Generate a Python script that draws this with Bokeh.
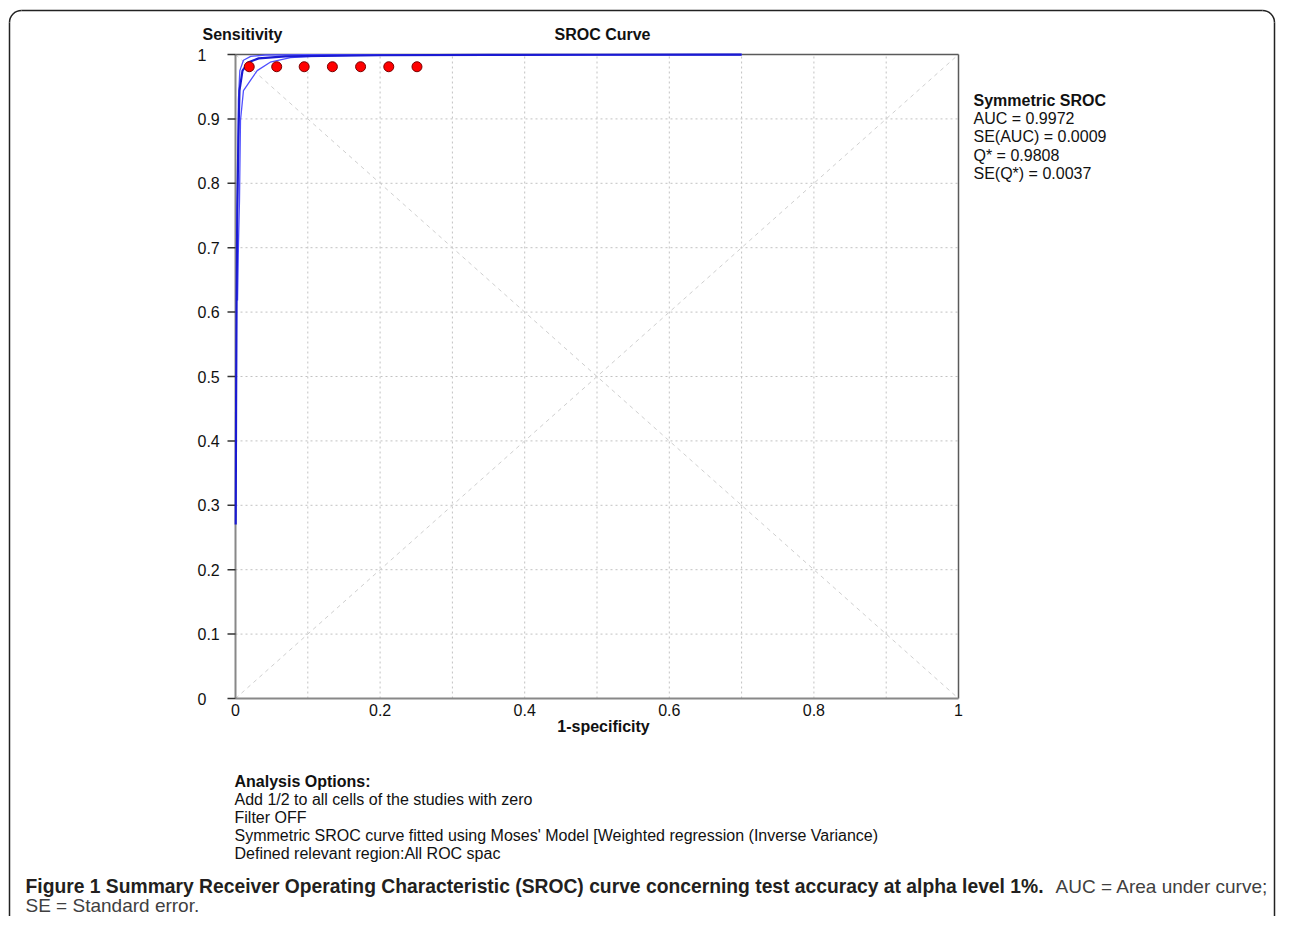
import math
from bokeh.plotting import figure
from bokeh.models import Range1d
from bokeh.core.properties import value
from bokeh.embed import file_html
from bokeh.resources import INLINE

# ---------------- data ----------------
study_fpr = [0.019, 0.057, 0.095, 0.134, 0.173, 0.212, 0.251]
study_tpr = [0.981, 0.981, 0.981, 0.981, 0.981, 0.981, 0.981]

sroc_fpr = [0.0003, 0.0008, 0.0015, 0.0025, 0.0040, 0.0055, 0.0097, 0.018, 0.032, 0.069, 0.12, 0.2, 0.35, 0.5, 0.7]
sroc_tpr = [0.27, 0.45, 0.62, 0.76, 0.87, 0.944, 0.975, 0.988, 0.994, 0.997, 0.998, 0.9988, 0.9993, 0.9996, 0.9998]

ci_up_fpr = [0.0015, 0.0020, 0.0035, 0.0040, 0.0060, 0.011, 0.021, 0.041, 0.1, 0.3, 0.7]
ci_up_tpr = [0.62, 0.696, 0.851, 0.929, 0.975, 0.991, 0.997, 0.9992, 0.9998, 0.9999, 1.0]

ci_lo_fpr = [0.0028, 0.0040, 0.0055, 0.0069, 0.011, 0.0207, 0.030, 0.048, 0.076, 0.122, 0.2, 0.4, 0.7]
ci_lo_tpr = [0.618, 0.70, 0.773, 0.8975, 0.944, 0.96, 0.975, 0.988, 0.995, 0.9984, 0.9992, 0.9996, 0.9998]

x_min, x_max = 0.0, 1.0
y_min, y_max = 0.0, 1.0
x_ticks = [0, 0.2, 0.4, 0.6, 0.8, 1]
x_tick_labels = ["0", "0.2", "0.4", "0.6", "0.8", "1"]
y_ticks = [0, 0.1, 0.2, 0.3, 0.4, 0.5, 0.6, 0.7, 0.8, 0.9, 1]
y_tick_labels = ["0", "0.1", "0.2", "0.3", "0.4", "0.5", "0.6", "0.7", "0.8", "0.9", "1"]
grid_ticks = [0.1, 0.2, 0.3, 0.4, 0.5, 0.6, 0.7, 0.8, 0.9]

y_title = "Sensitivity"
x_title = "1-specificity"
chart_title = "SROC Curve"
stats_title = "Symmetric SROC"
stats_lines = ["AUC = 0.9972", "SE(AUC) = 0.0009", "Q* = 0.9808", "SE(Q*) = 0.0037"]
options_title = "Analysis Options:"
options_lines = ["Add 1/2 to all cells of the studies with zero",
                 "Filter OFF",
                 "Symmetric SROC curve fitted using Moses' Model [Weighted regression (Inverse Variance)",
                 "Defined relevant region:All ROC spac"]
caption_bold = "Figure 1 Summary Receiver Operating Characteristic (SROC) curve concerning test accuracy at alpha level 1%."
caption_rest1 = "AUC = Area under curve;"
caption_rest2 = "SE = Standard error."

# ---------------- layout ----------------
W, H = 1276, 916
PL, PR, PT, PB = 235, 958, 54, 698     # plot box in page pixels

def cx(px):
    return (px - PL) / (PR - PL) * (x_max - x_min) + x_min

def cy(py):
    return (PB - py) / (PB - PT) * (y_max - y_min) + y_min

p = figure(width=W, height=H, output_backend="svg", toolbar_location=None,
           x_axis_type=None, y_axis_type=None,
           x_range=Range1d(cx(0), cx(W)), y_range=Range1d(cy(H), cy(0)),
           min_border=0, min_border_left=0, min_border_right=0,
           min_border_top=0, min_border_bottom=0)
p.outline_line_color = None
p.background_fill_color = "white"
p.border_fill_color = "white"

FONT = value("Liberation Sans")

# grid (dotted)
n = len(grid_ticks)
p.segment(x0=grid_ticks, y0=[y_min] * n, x1=grid_ticks, y1=[y_max] * n,
          line_color="#c2c2c2", line_dash="2 3", line_width=1)
p.segment(x0=[x_min] * n, y0=grid_ticks, x1=[x_max] * n, y1=grid_ticks,
          line_color="#c2c2c2", line_dash="2 3", line_width=1)

# diagonals (chance line and Q* line)
p.segment(x0=[x_min, x_min], y0=[y_min, y_max], x1=[x_max, x_max], y1=[y_max, y_min],
          line_color="#cfcfcf", line_dash="4 4", line_width=1)

# plot border: top & right dark, left & bottom (axes) gray
p.segment(x0=[x_min, x_max], y0=[y_max, y_min], x1=[x_max, x_max], y1=[y_max, y_max],
          line_color="#5a5a5a", line_width=1.5)
p.segment(x0=[x_min, x_min], y0=[y_min, y_min], x1=[x_min, x_max], y1=[y_max, y_min],
          line_color="#888888", line_width=2)

# y ticks (outside, 8px)
p.ray(x=[x_min] * len(y_ticks), y=y_ticks, length=8, length_units="screen",
      angle=math.pi, line_color="#333333", line_width=1.5)

# tick labels
p.text(x=[x_min] * len(y_ticks), y=y_ticks, text=y_tick_labels, x_offset=-38,
       text_align="left", text_baseline="middle", text_font=FONT,
       text_font_size="16px", text_color="#111111")
p.text(x=x_ticks, y=[y_min] * len(x_ticks), text=x_tick_labels, y_offset=11,
       text_align="center", text_baseline="middle", text_font=FONT,
       text_font_size="16px", text_color="#111111")

# curves
p.line(ci_up_fpr, ci_up_tpr, line_color="#5050ff", line_width=1.3)
p.line(ci_lo_fpr, ci_lo_tpr, line_color="#5050ff", line_width=1.3)
p.line(sroc_fpr, sroc_tpr, line_color="#1a1ad2", line_width=2.2)

# studies
p.scatter(study_fpr, study_tpr, size=10, fill_color="#ff0000", line_color="#7a0000", line_width=1)

# texts
def txt(texts, pxs, pys, size="16px", bold=False, align="left", color="#111111", font=FONT):
    p.text(x=[cx(v) for v in pxs], y=[cy(v) for v in pys], text=texts,
           text_align=align, text_baseline="middle", text_font=font,
           text_font_size=size, text_font_style="bold" if bold else "normal",
           text_color=color)

txt([y_title, chart_title], [242, 602], [34, 34], bold=True, align="center")
txt([x_title], [603], [726], bold=True, align="center")

txt([stats_title], [973], [100], bold=True)
txt(stats_lines, [973] * 4, [118, 136.3, 154.6, 172.9])

txt([options_title], [234], [781], bold=True)
txt(options_lines, [234] * 4, [799, 817, 835, 853])

txt([caption_bold], [25], [886], size="19.3px", bold=True, color="#231f20")
txt([caption_rest1], [1055], [886], size="19px", color="#404040")
txt([caption_rest2], [25], [905], size="19px", color="#404040")

# rounded outer frame of the figure panel (lines + corner arcs)
R = 12
fl, ft, fr, fb = 9, 10, W - 2, H + 20
frame_style = dict(line_color="#222222", line_width=1.5)
p.segment(x0=[cx(fl), cx(fl + R), cx(fr)], y0=[cy(ft + R), cy(ft), cy(ft + R)],
          x1=[cx(fl), cx(fr - R), cx(fr)], y1=[cy(fb), cy(ft), cy(fb)], **frame_style)
p.arc(x=[cx(fl + R), cx(fr - R)], y=[cy(ft + R), cy(ft + R)], radius=R, radius_units="screen",
      start_angle=[math.pi / 2, 0], end_angle=[math.pi, math.pi / 2], **frame_style)

open("out.html", "w").write(file_html(p, INLINE))
